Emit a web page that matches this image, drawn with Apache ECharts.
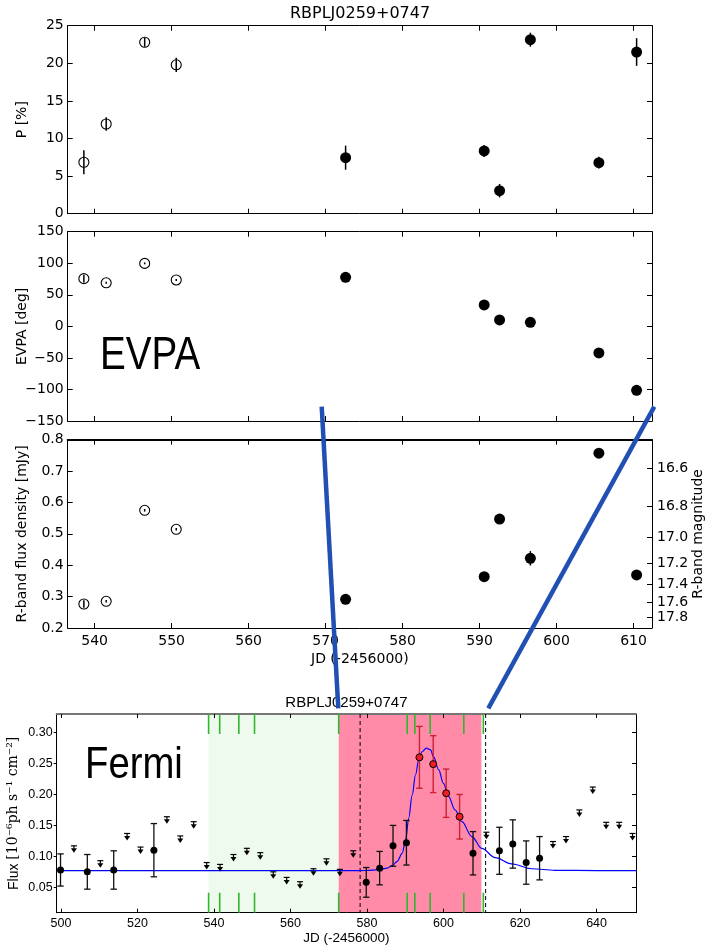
<!DOCTYPE html>
<html><head><meta charset="utf-8">
<script src="https://cdn.jsdelivr.net/npm/echarts@6/dist/echarts.min.js"></script>
<style>html,body{margin:0;padding:0;background:#fff}#c{width:706px;height:947px}</style>
</head><body><div id="c"></div>
<script>
// ---------------- data ----------------
const jdOpen = [538.6, 541.5, 546.5, 550.6];
const jdFilled = [572.6, 590.6, 592.6, 596.6, 605.5, 610.4];
const polOpen = [6.84, 11.93, 22.8, 19.8];
const polOpenErr = [1.6, 0.9, 0.6, 0.95];
const polFilled = [7.45, 8.34, 3.06, 23.14, 6.78, 21.5];
const polFilledErr = [1.6, 0.8, 0.9, 0.93, 0.78, 1.84];
const evpaOpen = [75.6, 69.0, 99.8, 73.5];
const evpaOpenErr = [6, 1.5, 1.5, 1.5];
const evpaFilled = [77.7, 33.9, 10.1, 6.3, -42.2, -101.4];
const evpaFilledErr = [2, 2, 2, 2, 2, 2];
const fluxOpen = [0.2765, 0.285, 0.575, 0.5145];
const fluxOpenErr = [0.012, 0.004, 0.004, 0.004];
const fluxFilled = [0.2914, 0.3635, 0.547, 0.422, 0.757, 0.369];
const fluxFilledErr = [0.005, 0.005, 0.005, 0.023, 0.005, 0.005];
const jdTicks = [540, 550, 560, 570, 580, 590, 600, 610];
const magTicks = [16.6, 16.8, 17.0, 17.2, 17.4, 17.6, 17.8];
const magZeroPoint = 3.0892e6; // mJy

// Fermi light curve
const fermiDetT = [499.9, 506.9, 513.8, 524.3, 579.8, 583.3, 586.8, 590.3, 607.7, 614.6, 618.1, 621.6, 625.1];
const fermiDetF = [0.078, 0.075, 0.078, 0.110, 0.058, 0.081, 0.117, 0.122, 0.105, 0.109, 0.120, 0.090, 0.097];
const fermiDetE = [0.026, 0.028, 0.031, 0.043, 0.024, 0.027, 0.033, 0.036, 0.035, 0.038, 0.039, 0.035, 0.035];
const flareT = [593.7, 597.3, 600.7, 604.2];
const flareF = [0.260, 0.249, 0.202, 0.164];
const flareE = [0.050, 0.046, 0.039, 0.036];
const ulT = [503.4, 510.3, 517.3, 520.8, 527.7, 531.2, 534.7, 538.1, 541.6, 545.1, 548.6, 552.1, 555.5, 559.0, 562.5, 566.0, 569.4, 572.9, 576.4, 611.2, 628.6, 632.0, 635.5, 639.0, 642.5, 645.9, 649.4];
const ulF = [0.117, 0.093, 0.137, 0.115, 0.164, 0.133, 0.156, 0.090, 0.087, 0.103, 0.113, 0.106, 0.075, 0.066, 0.059, 0.080, 0.096, 0.079, 0.109, 0.139, 0.124, 0.132, 0.175, 0.212, 0.155, 0.155, 0.137];
const fitT = [498.9, 560, 575, 580, 583, 585.3, 586.6, 587.9, 589.2, 590.1, 590.9, 591.8, 592.7, 593.5, 594.4, 595.5, 596.6, 597.4, 598.7, 600.0, 601.3, 603.0, 604.8, 607.4, 610.0, 613.5, 617.8, 623.0, 629.1, 640, 650.3];
const fitF = [0.077, 0.077, 0.077, 0.0772, 0.0785, 0.081, 0.085, 0.092, 0.105, 0.127, 0.162, 0.199, 0.232, 0.256, 0.269, 0.275, 0.272, 0.261, 0.240, 0.218, 0.197, 0.175, 0.156, 0.132, 0.113, 0.098, 0.088, 0.080, 0.0775, 0.077, 0.077];
const obsT = [538.6, 541.5, 546.5, 550.6, 572.6, 590.5, 592.5, 596.5, 605.3, 610.4];
const periodsT = [[538.6, 572.6], [572.6, 609.9]];
const periodColors = ['#effaef', '#ff8ba8'];
const dashedT = [578.2, 611.0];
const fermiXTicks = [500, 520, 540, 560, 580, 600, 620, 640];
const fermiYTicks = [0.05, 0.10, 0.15, 0.20, 0.25, 0.30];

// ---------------- helpers ----------------
const zip3 = (a, b, c) => a.map((v, i) => [v, b[i], c[i]]);
const zip2 = (a, b) => a.map((v, i) => [v, b[i]]);
const FY0 = 0.009, FY1 = 0.330;
const FX0 = 498.9, FX1 = 650.3;
const TX0 = 536.5, TX1 = 612.4;

function errRender(color, lw, cap) {
  return function (params, api) {
    const x = api.value(0), y = api.value(1), e = api.value(2);
    const a = api.coord([x, y + e]), b = api.coord([x, y - e]);
    const st = { stroke: color, lineWidth: lw };
    const ch = [{ type: 'line', shape: { x1: a[0], y1: a[1], x2: b[0], y2: b[1] }, style: st }];
    if (cap) {
      ch.push({ type: 'line', shape: { x1: a[0] - cap, y1: a[1], x2: a[0] + cap, y2: a[1] }, style: st });
      ch.push({ type: 'line', shape: { x1: b[0] - cap, y1: b[1], x2: b[0] + cap, y2: b[1] }, style: st });
    }
    return { type: 'group', children: ch };
  };
}
function ulRender(params, api) {
  const p = api.coord([api.value(0), api.value(1)]);
  return { type: 'group', children: [
    { type: 'line', shape: { x1: p[0] - 3, y1: p[1], x2: p[0] + 3, y2: p[1] }, style: { stroke: '#000', lineWidth: 1.2 } },
    { type: 'line', shape: { x1: p[0], y1: p[1], x2: p[0], y2: p[1] + 3 }, style: { stroke: '#000', lineWidth: 1.2 } },
    { type: 'polygon', shape: { points: [[p[0] - 3, p[1] + 2.5], [p[0] + 3, p[1] + 2.5], [p[0], p[1] + 7]] }, style: { fill: '#000' } }
  ] };
}
function obsTickRender(params, api) {
  const t = api.value(0);
  const top = api.coord([t, FY1]), bot = api.coord([t, FY0]);
  const st = { stroke: '#2db82d', lineWidth: 1.6 };
  return { type: 'group', children: [
    { type: 'line', shape: { x1: top[0], y1: top[1], x2: top[0], y2: top[1] + 20 }, style: st },
    { type: 'line', shape: { x1: bot[0], y1: bot[1], x2: bot[0], y2: bot[1] - 20 }, style: st }
  ] };
}
function periodRender(params, api) {
  const a = api.coord([api.value(0), FY1]), b = api.coord([api.value(1), FY0]);
  return { type: 'rect', shape: { x: a[0], y: a[1], width: b[0] - a[0], height: b[1] - a[1] }, style: { fill: periodColors[params.dataIndex] } };
}
function dashRender(params, api) {
  const a = api.coord([api.value(0), FY1]), b = api.coord([api.value(0), FY0]);
  return { type: 'line', shape: { x1: a[0], y1: a[1], x2: b[0], y2: b[1] }, style: { stroke: '#000', lineWidth: 1, lineDash: [4, 3] } };
}

const SANS = 'DejaVu Sans';
const HELV = 'Liberation Sans';
const minus = v => String(v).replace('-', '\u2212');
const blk = { color: '#000', width: 1 };

// ---------------- grids ----------------
const grids = [
  { left: 67.7, top: 25.7, width: 584.3, height: 188 },
  { left: 67.7, top: 231.7, width: 584.3, height: 189.3 },
  { left: 67.7, top: 439.7, width: 584.3, height: 188.3 },
  { left: 56.7, top: 714, width: 579.3, height: 198.7 }
].map(g => Object.assign(g, { containLabel: false, outerBoundsMode: 'none' }));

const xAxes = [];
const yAxes = [];
for (let g = 0; g < 3; g++) {
  xAxes.push({
    type: 'value', gridIndex: g, position: 'bottom', min: TX0, max: TX1,
    axisLine: { show: true, onZero: false, lineStyle: blk },
    axisTick: { show: true, inside: true, length: 5, customValues: jdTicks, lineStyle: blk },
    axisLabel: { show: g === 2, customValues: jdTicks, fontFamily: SANS, fontSize: 14, color: '#000', margin: 6 },
    splitLine: { show: false },
    name: g === 2 ? 'JD (-2456000)' : '', nameLocation: 'middle', nameGap: 24, nameMoveOverlap: false,
    nameTextStyle: { fontFamily: SANS, fontSize: 14, color: '#000' }
  });
  xAxes.push({
    type: 'value', gridIndex: g, position: 'top', min: TX0, max: TX1,
    axisLine: { show: true, onZero: false, lineStyle: { color: '#000', width: g === 2 ? 2 : 1 } },
    axisTick: { show: true, inside: true, length: 5, customValues: jdTicks, lineStyle: blk },
    axisLabel: { show: false }, splitLine: { show: false }
  });
}
xAxes.push({
  type: 'value', gridIndex: 3, position: 'bottom', min: FX0, max: FX1,
  axisLine: { show: true, onZero: false, lineStyle: blk },
  axisTick: { show: true, inside: true, length: 4, customValues: fermiXTicks, lineStyle: blk },
  axisLabel: { customValues: fermiXTicks, fontFamily: HELV, fontSize: 12.5, color: '#000', margin: 4 },
  splitLine: { show: false },
  name: 'JD (-2456000)', nameLocation: 'middle', nameGap: 19, nameMoveOverlap: false,
  nameTextStyle: { fontFamily: HELV, fontSize: 13.5, color: '#000' }
});
xAxes.push({
  type: 'value', gridIndex: 3, position: 'top', min: FX0, max: FX1,
  axisLine: { show: true, onZero: false, lineStyle: { color: '#777', width: 2 } },
  axisTick: { show: true, inside: true, length: 4, customValues: fermiXTicks, lineStyle: blk },
  axisLabel: { show: false }, splitLine: { show: false }
});

const yLeft = [
  { min: 0, max: 25, interval: 5, name: 'P [%]', fmt: v => String(v) },
  { min: -150, max: 150, interval: 50, name: 'EVPA [deg]', fmt: minus },
  { min: 0.2, max: 0.8, interval: 0.1, name: 'R-band flux density [mJy]', fmt: v => v.toFixed(1) }
];
yLeft.forEach((c, g) => {
  yAxes.push({
    type: 'value', gridIndex: g, position: 'left', min: c.min, max: c.max, interval: c.interval,
    axisLine: { show: true, onZero: false, lineStyle: blk },
    axisTick: { show: true, inside: true, length: 5, lineStyle: blk },
    axisLabel: { formatter: c.fmt, fontFamily: SANS, fontSize: 14, color: '#000', margin: 4 },
    splitLine: { show: false },
    name: c.name, nameLocation: 'middle', nameGap: 38, nameMoveOverlap: false,
    nameTextStyle: { fontFamily: SANS, fontSize: 14, color: '#000' }
  });
  const magVals = magTicks.map(m => magZeroPoint * Math.pow(10, -0.4 * m));
  yAxes.push(g === 2 ? {
    type: 'value', gridIndex: g, position: 'right', min: c.min, max: c.max,
    axisLine: { show: true, onZero: false, lineStyle: blk },
    axisTick: { show: true, inside: true, length: 5, customValues: magVals, lineStyle: blk },
    axisLabel: { customValues: magVals, formatter: v => (-2.5 * Math.log10(v / magZeroPoint)).toFixed(1), fontFamily: SANS, fontSize: 14, color: '#000', margin: 5 },
    splitLine: { show: false },
    name: 'R-band magnitude', nameLocation: 'middle', nameGap: 46, nameRotate: 90, nameMoveOverlap: false,
    nameTextStyle: { fontFamily: SANS, fontSize: 14, color: '#000', verticalAlign: 'middle' }
  } : {
    type: 'value', gridIndex: g, position: 'right', min: c.min, max: c.max, interval: c.interval,
    axisLine: { show: true, onZero: false, lineStyle: blk },
    axisTick: { show: true, inside: true, length: 5, lineStyle: blk },
    axisLabel: { show: false }, splitLine: { show: false }
  });
});
yAxes.push({
  type: 'value', gridIndex: 3, position: 'left', min: FY0, max: FY1,
  axisLine: { show: true, onZero: false, lineStyle: blk },
  axisTick: { show: true, inside: false, length: 3, customValues: fermiYTicks, lineStyle: blk },
  axisLabel: { customValues: fermiYTicks, formatter: v => v.toFixed(2), fontFamily: HELV, fontSize: 12.5, color: '#000', margin: 4 },
  splitLine: { show: false },
  name: '{a|Flux }{b|[10\u207B\u2076ph s\u207B\u00B9 cm\u207B\u00B2]}', nameLocation: 'middle', nameGap: 36, nameMoveOverlap: false,
  nameTextStyle: { rich: { a: { fontFamily: HELV, fontSize: 14, color: '#000' }, b: { fontFamily: 'DejaVu Serif', fontSize: 14, color: '#000' } } }
});
yAxes.push({
  type: 'value', gridIndex: 3, position: 'right', min: FY0, max: FY1,
  axisLine: { show: true, onZero: false, lineStyle: blk },
  axisTick: { show: true, inside: true, length: 4, customValues: fermiYTicks, lineStyle: blk },
  axisLabel: { show: false }, splitLine: { show: false }
});

// ---------------- series ----------------
const series = [];
const panels = [
  [polOpen, polOpenErr, polFilled, polFilledErr],
  [evpaOpen, evpaOpenErr, evpaFilled, evpaFilledErr],
  [fluxOpen, fluxOpenErr, fluxFilled, fluxFilledErr]
];
panels.forEach((p, g) => {
  const xi = 2 * g, yi = 2 * g;
  series.push({ type: 'custom', xAxisIndex: xi, yAxisIndex: yi, renderItem: errRender('#000', 1.5, 0), data: zip3(jdOpen, p[0], p[1]), z: 3, silent: true, clip: false });
  series.push({ type: 'custom', xAxisIndex: xi, yAxisIndex: yi, renderItem: errRender('#000', 1.5, 0), data: zip3(jdFilled, p[2], p[3]), z: 3, silent: true, clip: false });
  series.push({ type: 'scatter', xAxisIndex: xi, yAxisIndex: yi, data: zip2(jdOpen, p[0]), symbol: 'circle', symbolSize: 10,
    itemStyle: { color: 'rgba(0,0,0,0)', borderColor: '#000', borderWidth: 1.1, opacity: 1 }, z: 4, silent: true });
  series.push({ type: 'scatter', xAxisIndex: xi, yAxisIndex: yi, data: zip2(jdFilled, p[2]), symbol: 'circle', symbolSize: 11,
    itemStyle: { color: '#000', opacity: 1 }, z: 4, silent: true });
});
// Fermi panel
series.push({ type: 'custom', xAxisIndex: 6, yAxisIndex: 6, renderItem: periodRender, data: periodsT, z: 0, silent: true });
series.push({ type: 'custom', xAxisIndex: 6, yAxisIndex: 6, renderItem: obsTickRender, data: obsT.map(t => [t, FY1]), z: 1, silent: true, clip: false });
series.push({ type: 'custom', xAxisIndex: 6, yAxisIndex: 6, renderItem: dashRender, data: dashedT.map(t => [t, FY1]), z: 1, silent: true });
series.push({ type: 'line', xAxisIndex: 6, yAxisIndex: 6, data: zip2(fitT, fitF), smooth: 0.35, smoothMonotone: 'x', showSymbol: false,
  lineStyle: { color: '#0000ff', width: 1.2 }, z: 2, silent: true });
series.push({ type: 'custom', xAxisIndex: 6, yAxisIndex: 6, renderItem: errRender('#111', 1.3, 3.2), data: zip3(fermiDetT, fermiDetF, fermiDetE), z: 3, silent: true });
series.push({ type: 'custom', xAxisIndex: 6, yAxisIndex: 6, renderItem: errRender('#cc2233', 1.4, 3.2), data: zip3(flareT, flareF, flareE), z: 3, silent: true });
series.push({ type: 'custom', xAxisIndex: 6, yAxisIndex: 6, renderItem: ulRender, data: zip2(ulT, ulF), z: 4, silent: true });
series.push({ type: 'scatter', xAxisIndex: 6, yAxisIndex: 6, data: zip2(fermiDetT, fermiDetF), symbol: 'circle', symbolSize: 7, itemStyle: { color: '#000', opacity: 1 }, z: 5, silent: true });
series.push({ type: 'scatter', xAxisIndex: 6, yAxisIndex: 6, data: zip2(flareT, flareF), symbol: 'circle', symbolSize: 7,
  itemStyle: { color: '#ee1c25', borderColor: '#000', borderWidth: 1, opacity: 1 }, z: 5, silent: true });

const option = {
  animation: false,
  backgroundColor: '#fff',
  grid: grids,
  xAxis: xAxes,
  yAxis: yAxes,
  series: series,
  graphic: [
    { type: 'text', x: 360, y: 14.3, style: { text: 'RBPLJ0259+0747', font: '16px "DejaVu Sans"', fill: '#000', align: 'center', verticalAlign: 'middle' }, z: 10 },
    { type: 'text', x: 346.4, y: 703, style: { text: 'RBPLJ0259+0747', font: '15px "Liberation Sans"', fill: '#000', align: 'center', verticalAlign: 'middle' }, z: 10 },
    { type: 'text', x: 100, y: 356.7, scaleX: 0.84, style: { text: 'EVPA', font: '46px "Liberation Sans"', fill: '#000', align: 'left', verticalAlign: 'middle' }, z: 10 },
    { type: 'text', x: 85, y: 765.8, scaleX: 0.87, style: { text: 'Fermi', font: '44px "Liberation Sans"', fill: '#000', align: 'left', verticalAlign: 'middle' }, z: 10 },
    { type: 'line', shape: { x1: 321.7, y1: 406.7, x2: 338.3, y2: 708.3 }, style: { stroke: '#2150b4', lineWidth: 4.5 }, z: 20 },
    { type: 'line', shape: { x1: 654.3, y1: 406.7, x2: 488.3, y2: 708.3 }, style: { stroke: '#2150b4', lineWidth: 4.5 }, z: 20 }
  ]
};
const chart = echarts.init(document.getElementById('c'), null, { renderer: 'canvas' });
chart.setOption(option);
</script></body></html>
